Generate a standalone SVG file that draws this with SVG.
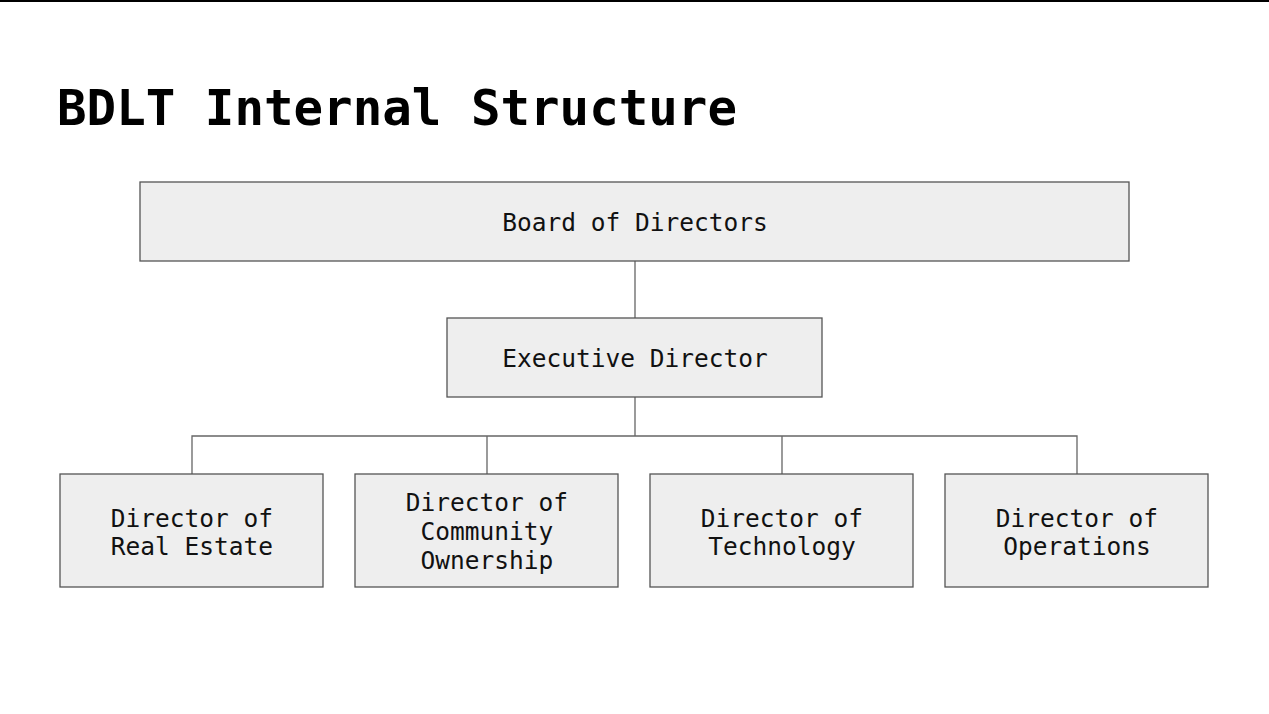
<svg xmlns="http://www.w3.org/2000/svg" width="1269" height="714" viewBox="0 0 1269 714">
<style>
.box{fill:#eeeeee;stroke:#555555;stroke-width:1.3}
.lbl{font-family:"DejaVu Sans Mono","Liberation Mono",monospace;font-size:24.5px;fill:#111;text-anchor:middle}
.title{font-family:"DejaVu Sans Mono","Liberation Mono",monospace;font-size:49px;font-weight:bold;fill:#000}
.conn{stroke:#666666;stroke-width:1.3;fill:none}
</style>
<rect x="0" y="0" width="1269" height="714" fill="#ffffff"/>
<rect x="0" y="0" width="1269" height="2" fill="#000"/>
<text class="title" x="57" y="125" textLength="680" lengthAdjust="spacingAndGlyphs">BDLT Internal Structure</text>
<g id="connectors">
<path class="conn" d="M635 261V318M635 397V436M192 474V436H1077V474M487 436V474M782 436V474"/>
</g>
<g id="board"><rect class="box" x="140" y="182" width="989" height="79"/><text class="lbl" x="635" y="231">Board of Directors</text></g>
<g id="exec"><rect class="box" x="447" y="318" width="375" height="79"/><text class="lbl" x="635" y="367">Executive Director</text></g>
<g id="realestate"><rect class="box" x="60" y="474" width="263" height="113"/><text class="lbl" x="192" y="527">Director of</text><text class="lbl" x="192" y="555">Real Estate</text></g>
<g id="community"><rect class="box" x="355" y="474" width="263" height="113"/><text class="lbl" x="487" y="511">Director of</text><text class="lbl" x="487" y="540">Community</text><text class="lbl" x="487" y="569">Ownership</text></g>
<g id="technology"><rect class="box" x="650" y="474" width="263" height="113"/><text class="lbl" x="782" y="527">Director of</text><text class="lbl" x="782" y="555">Technology</text></g>
<g id="operations"><rect class="box" x="945" y="474" width="263" height="113"/><text class="lbl" x="1077" y="527">Director of</text><text class="lbl" x="1077" y="555">Operations</text></g>
</svg>
